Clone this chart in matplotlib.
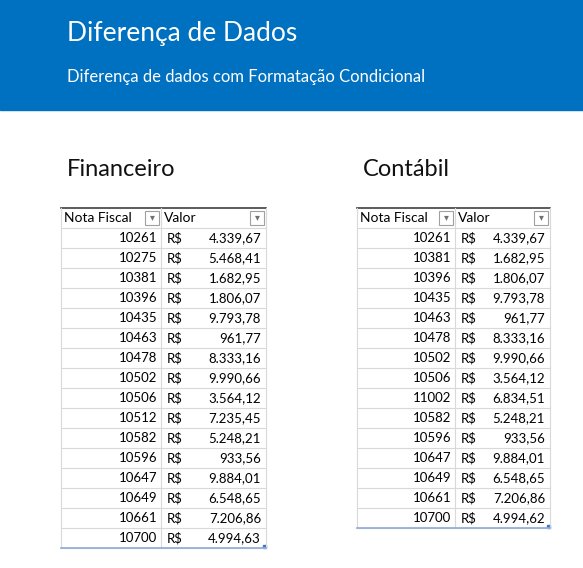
import matplotlib.pyplot as plt
from matplotlib.patches import Rectangle

plt.rcParams['font.family'] = ['Lato', 'DejaVu Sans']

titulo = "Diferença de Dados"
subtitulo = "Diferença de dados com Formatação Condicional"

fin_notas = [10261, 10275, 10381, 10396, 10435, 10463, 10478, 10502, 10506,
             10512, 10582, 10596, 10647, 10649, 10661, 10700]
fin_valores = ["4.339,67", "5.468,41", "1.682,95", "1.806,07", "9.793,78", "961,77",
               "8.333,16", "9.990,66", "3.564,12", "7.235,45", "5.248,21", "933,56",
               "9.884,01", "6.548,65", "7.206,86", "4.994,63"]

cont_notas = [10261, 10381, 10396, 10435, 10463, 10478, 10502, 10506, 11002,
              10582, 10596, 10647, 10649, 10661, 10700]
cont_valores = ["4.339,67", "1.682,95", "1.806,07", "9.793,78", "961,77", "8.333,16",
                "9.990,66", "3.564,12", "6.834,51", "5.248,21", "933,56", "9.884,01",
                "6.548,65", "7.206,86", "4.994,62"]

fig = plt.figure(figsize=(5.83, 5.68), dpi=100)
ax = fig.add_axes([0, 0, 1, 1])
ax.set_xlim(0, 583)
ax.set_ylim(568, 0)
ax.axis('off')

ax.add_patch(Rectangle((0, 0), 583, 110, color='#0070C0'))
ax.text(67, 33, titulo, color='white', fontsize=19, va='center')
ax.text(67, 77, subtitulo, color='white', fontsize=12, va='center')


def tabela(nome, x0, xs, x1, notas, valores):
    ax.text(x0 + 6, 170, nome, fontsize=17, va='center', color='#111111')
    top = 208
    rh = 20
    n = len(notas)
    bottom = top + rh * (n + 1)
    # header
    ax.plot([x0, x1], [top, top], color='#404040', lw=1.2)
    ax.text(x0 + 3, top + rh / 2, "Nota Fiscal", fontsize=10, va='center')
    ax.text(xs + 3, top + rh / 2, "Valor", fontsize=10, va='center')
    for bx in (xs - 16, x1 - 16):
        ax.add_patch(Rectangle((bx, top + 3), 14, 14, facecolor='white',
                               edgecolor='#A0A0A0', lw=0.8))
        ax.text(bx + 7, top + 10, "▾", fontsize=7, ha='center', va='center', color='#707070')
    for i in range(n + 1):
        y = top + rh * (i + 1)
        ax.plot([x0, x1], [y, y], color='#D9D9D9', lw=0.8)
    for i, (nota, val) in enumerate(zip(notas, valores)):
        y = top + rh * (i + 1.5)
        ax.text(xs - 4, y, str(nota), fontsize=9.5, ha='right', va='center')
        ax.text(xs + 6, y, "R$", fontsize=9.5, va='center')
        ax.text(x1 - 5, y, val, fontsize=9.5, ha='right', va='center')
    ax.plot([xs, xs], [top, bottom], color='#D9D9D9', lw=0.8)
    ax.plot([x0, x0], [top, bottom], color='#D9D9D9', lw=0.8)
    ax.plot([x1, x1], [top, bottom], color='#D9D9D9', lw=0.8)
    ax.plot([x0, x1], [bottom, bottom], color='#8EA9DB', lw=1.2)
    ax.add_patch(Rectangle((x1 - 3, bottom - 3), 3, 3, color='#4472C4'))


tabela("Financeiro", 61, 161, 266, fin_notas, fin_valores)
tabela("Contábil", 357, 455, 550, cont_notas, cont_valores)

fig.savefig("out.png", dpi=100)
